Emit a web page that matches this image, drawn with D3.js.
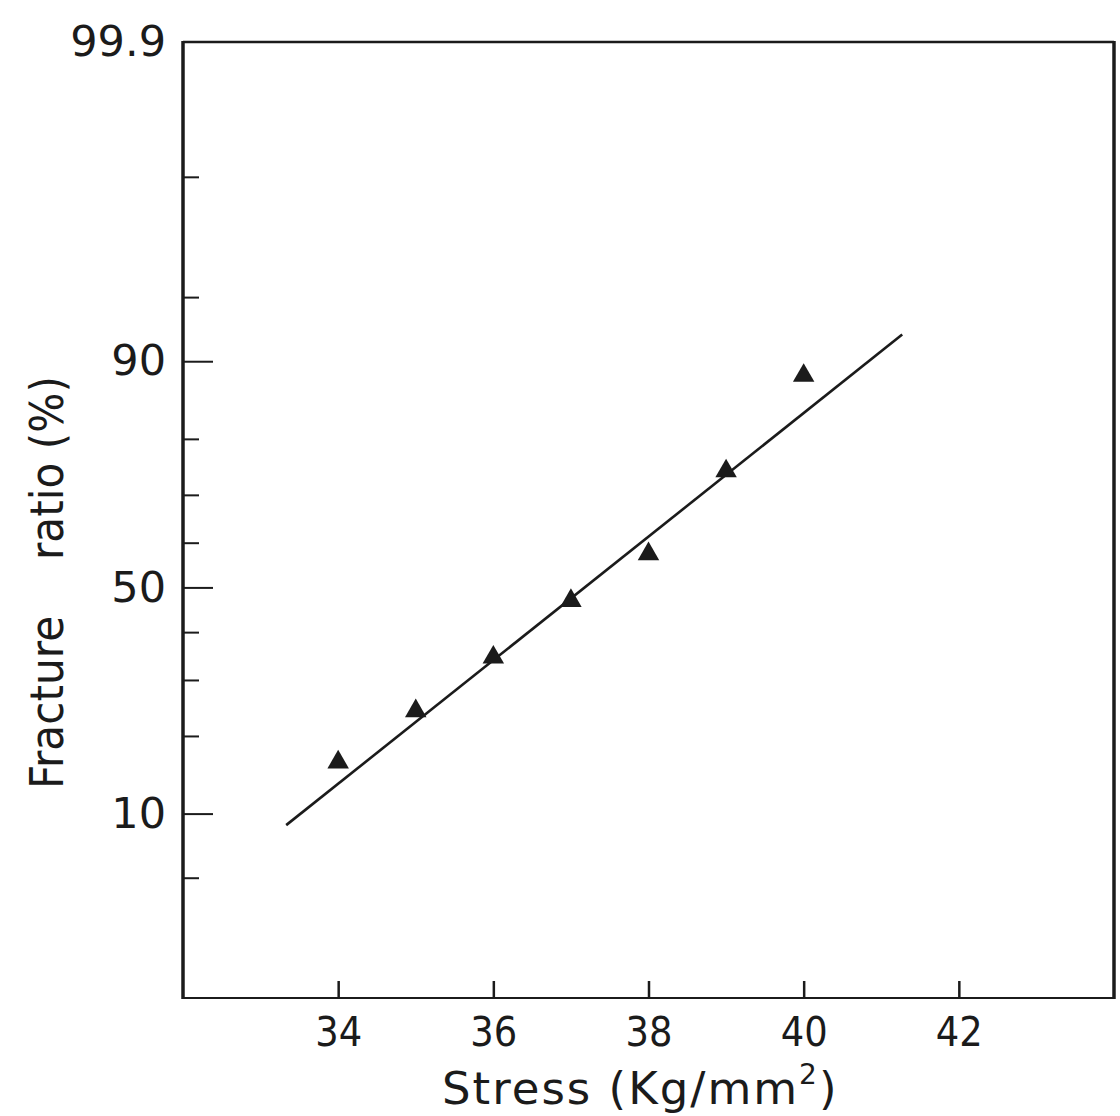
<!DOCTYPE html>
<html>
<head>
<meta charset="utf-8">
<script src="https://cdn.jsdelivr.net/npm/d3@7"></script>
<style>
  html, body { margin: 0; padding: 0; background: #ffffff; }
  svg { display: block; }
  .cond { font-family: 'DejaVu Sans Condensed', 'DejaVu Sans', sans-serif; font-stretch: condensed; }
  .norm { font-family: 'DejaVu Sans', sans-serif; }
</style>
</head>
<body>
<svg id="chart" width="1120" height="1116"></svg>
<script>
// ---- data ----
const stress = [34, 35, 36, 37, 38, 39, 40];                 // Kg/mm^2
const fracture = [16.1, 24.2, 34.6, 47.0, 57.5, 74.5, 88.5];  // %
const fitStress = [33.33, 41.27];
const fitFracture = [8.9, 92.4];
const xTicks = [34, 36, 38, 40, 42];
const xDomain = [32, 44];
const yDomain = [1, 99.9];                 // % (normal probability paper)
const yLabeled = [99.9, 90, 50, 10];
const yMinor = [99, 95, 80, 70, 60, 40, 30, 20, 5];
const xTitle = "Stress (Kg/mm";
const xTitleSup = "2";
const yTitle = "Fracture\u2003 ratio (%)";

// inverse standard normal CDF (Acklam)
function probit(p) {
  const a = [-3.969683028665376e+01, 2.209460984245205e+02, -2.759285104469687e+02, 1.383577518672690e+02, -3.066479806614716e+01, 2.506628277459239e+00];
  const b = [-5.447609879822406e+01, 1.615858368580409e+02, -1.556989798598866e+02, 6.680131188771972e+01, -1.328068155288572e+01];
  const c = [-7.784894002430293e-03, -3.223964580411365e-01, -2.400758277161838e+00, -2.549732539343734e+00, 4.374664141464968e+00, 2.938163982698783e+00];
  const d = [7.784695709041462e-03, 3.224671290700398e-01, 2.445134137142996e+00, 3.754408661907416e+00];
  const pl = 0.02425, ph = 1 - pl;
  let q, r;
  if (p < pl) {
    q = Math.sqrt(-2 * Math.log(p));
    return (((((c[0]*q+c[1])*q+c[2])*q+c[3])*q+c[4])*q+c[5]) / ((((d[0]*q+d[1])*q+d[2])*q+d[3])*q+1);
  } else if (p <= ph) {
    q = p - 0.5; r = q * q;
    return (((((a[0]*r+a[1])*r+a[2])*r+a[3])*r+a[4])*r+a[5])*q / (((((b[0]*r+b[1])*r+b[2])*r+b[3])*r+b[4])*r+1);
  } else {
    q = Math.sqrt(-2 * Math.log(1 - p));
    return -(((((c[0]*q+c[1])*q+c[2])*q+c[3])*q+c[4])*q+c[5]) / ((((d[0]*q+d[1])*q+d[2])*q+d[3])*q+1);
  }
}
const z = v => probit(v / 100);

// ---- layout ----
const L = 183, R = 1114, T = 42, B = 998;
const ink = "#1b1b1b";

const svg = d3.select("#chart");
const x = d3.scaleLinear().domain(xDomain).range([L, R]);
const yz = d3.scaleLinear().domain(yDomain.map(z)).range([B, T]);
const y = v => yz(z(v));

// frame
svg.append("line").attr("x1", L).attr("x2", R).attr("y1", T).attr("y2", T)
  .attr("stroke", ink).attr("stroke-width", 2.5);
svg.append("line").attr("x1", L).attr("x2", R).attr("y1", B).attr("y2", B)
  .attr("stroke", ink).attr("stroke-width", 2);
svg.append("line").attr("x1", L).attr("x2", L).attr("y1", T - 1).attr("y2", B + 1)
  .attr("stroke", ink).attr("stroke-width", 3.5);
svg.append("line").attr("x1", R).attr("x2", R).attr("y1", T - 1).attr("y2", B + 1)
  .attr("stroke", ink).attr("stroke-width", 3.5);

// x axis (ticks pointing inward)
const xAxis = d3.axisBottom(x).tickValues(xTicks).tickFormat(d3.format("d"))
  .tickSizeInner(-17).tickSizeOuter(0).tickPadding(19);
const gx = svg.append("g").attr("transform", `translate(0,${B})`).call(xAxis);
gx.select(".domain").remove();
gx.selectAll(".tick line").attr("stroke", ink).attr("stroke-width", 2.5);
gx.selectAll(".tick text").attr("class", "cond").attr("fill", ink)
  .attr("font-size", 41);

// y axis major (labeled) ticks
const yAxis = d3.axisLeft(yz).tickValues(yLabeled.map(z))
  .tickFormat((d, i) => String(yLabeled[i]))
  .tickSizeInner(-30).tickSizeOuter(0).tickPadding(17);
const gy = svg.append("g").attr("transform", `translate(${L},0)`).call(yAxis);
gy.select(".domain").remove();
gy.selectAll(".tick line").attr("stroke", ink).attr("stroke-width", 2)
  .filter((d, i) => yLabeled[i] === 99.9).remove();
gy.selectAll(".tick text").attr("class", "norm").attr("fill", ink)
  .attr("font-size", 43);

// y axis minor ticks
const yAxisMinor = d3.axisLeft(yz).tickValues(yMinor.map(z)).tickFormat("")
  .tickSizeInner(-16).tickSizeOuter(0);
const gym = svg.append("g").attr("transform", `translate(${L},0)`).call(yAxisMinor);
gym.select(".domain").remove();
gym.selectAll(".tick line").attr("stroke", ink).attr("stroke-width", 2);

// fitted line
const fit = fitStress.map((s, i) => [s, fitFracture[i]]);
svg.append("path").datum(fit)
  .attr("d", d3.line().x(d => x(d[0])).y(d => y(d[1])))
  .attr("fill", "none").attr("stroke", ink).attr("stroke-width", 2.6);

// data points
const pts = stress.map((s, i) => [s, fracture[i]]);
svg.append("g").selectAll("path").data(pts).join("path")
  .attr("transform", d => `translate(${x(d[0])},${y(d[1])})`)
  .attr("d", d3.symbol().type(d3.symbolTriangle).size(200))
  .attr("fill", ink);

// axis titles
const xt = svg.append("text").attr("class", "norm")
  .attr("x", 442).attr("y", 1104).attr("letter-spacing", 2)
  .attr("text-anchor", "start").attr("font-size", 45).attr("fill", ink);
xt.append("tspan").text(xTitle);
xt.append("tspan").attr("font-size", 28).attr("dy", -20).text(xTitleSup);
xt.append("tspan").attr("dy", 20).text(")");

svg.append("text").attr("class", "cond")
  .attr("transform", `translate(63,789) rotate(-90)`)
  .attr("text-anchor", "start").attr("font-size", 47).attr("fill", ink)
  .text(yTitle);
</script>
</body>
</html>
